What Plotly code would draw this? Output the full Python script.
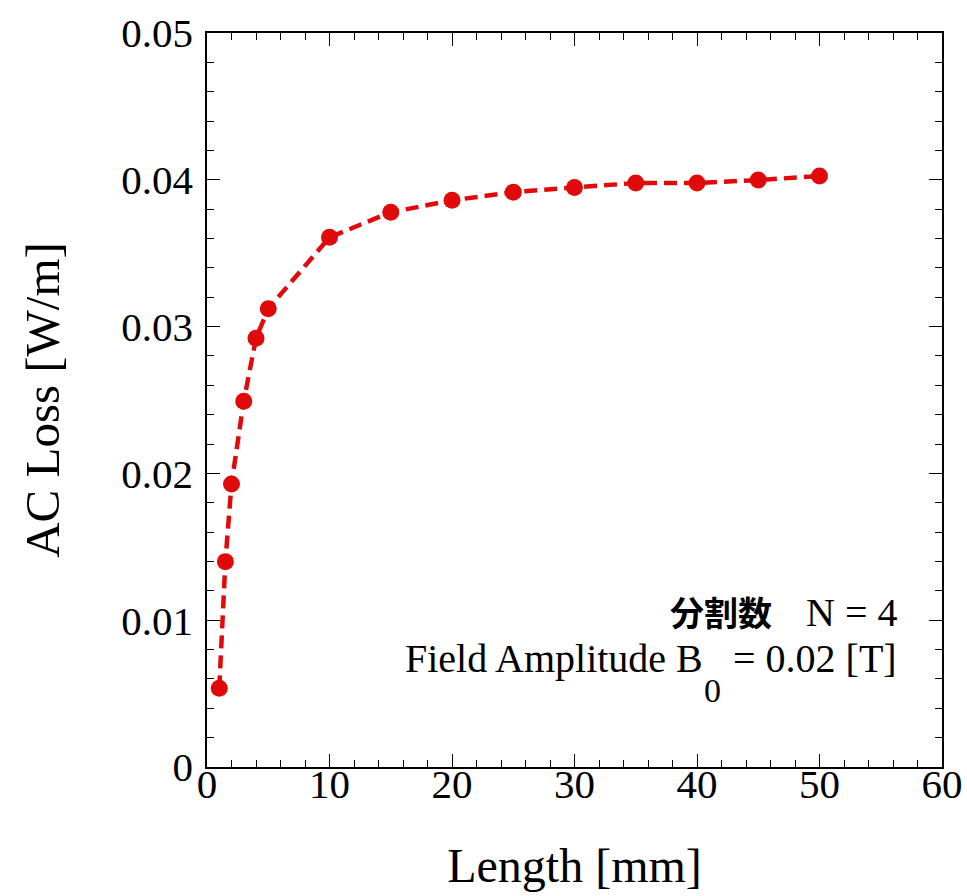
import plotly.graph_objects as go

length_mm = [1, 1.5, 2, 3, 4, 5, 10, 15, 20, 25, 30, 35, 40, 45, 50]
ac_loss = [0.00536, 0.01399, 0.01928, 0.02492, 0.02920, 0.03122, 0.03608,
           0.03779, 0.03860, 0.03916, 0.03948, 0.03978, 0.03978, 0.03998, 0.04026]

x_ticks = [0, 10, 20, 30, 40, 50, 60]
y_ticks = [0, 0.01, 0.02, 0.03, 0.04, 0.05]
y_tick_text = ["0", "0.01", "0.02", "0.03", "0.04", "0.05"]

red = "#e00a0a"
serif = "Liberation Serif, Times New Roman, serif"

fig = go.Figure()
fig.add_trace(go.Scatter(
    x=length_mm, y=ac_loss, mode="lines+markers",
    line=dict(color=red, width=4.5, dash="13px,7px"),
    marker=dict(color=red, size=17),
    showlegend=False,
))

axis_common = dict(
    showline=True, linecolor="black", linewidth=1.5, mirror="allticks",
    ticks="inside", ticklen=13, tickwidth=1.3, tickcolor="black",
    showgrid=False, zeroline=False, automargin=False,
    tickfont=dict(family=serif, size=41, color="black"),
    ticklabeloverflow="allow",
)

fig.update_xaxes(
    range=[0, 60], tickvals=x_ticks,
    minor=dict(ticks="inside", ticklen=7, dtick=2, tickcolor="black", tickwidth=1.2, showgrid=False),
    title=dict(text="Length [mm]", font=dict(family=serif, size=48, color="black"), standoff=42),
    ticklabelstandoff=-20,
    **axis_common,
)
fig.update_yaxes(
    range=[0, 0.05], tickvals=y_ticks, ticktext=y_tick_text,
    minor=dict(ticks="inside", ticklen=7, dtick=0.002, tickcolor="black", tickwidth=1.2, showgrid=False),
    title=dict(text="AC Loss [W/m]", font=dict(family=serif, size=49, color="black"), standoff=46),
    ticklabelstandoff=4,
    **axis_common,
)

txt_font = dict(family=serif, size=40, color="black")
fig.add_annotation(
    x=56.45, y=0.0106, xref="x", yref="y", xanchor="right", yanchor="middle",
    text="<b><span style='font-family:Noto Sans CJK JP;font-size:34px'>分割数　</span></b>N = 4",
    showarrow=False, font=txt_font,
)
fig.add_annotation(
    x=40.65, y=0.0074, xref="x", yref="y", xanchor="right", yanchor="middle",
    text="Field Amplitude B", showarrow=False, font=txt_font,
)
fig.add_annotation(
    x=41.3, y=0.00518, xref="x", yref="y", xanchor="center", yanchor="middle",
    text="0", showarrow=False, font=dict(family=serif, size=34, color="black"),
)
fig.add_annotation(
    x=56.45, y=0.0074, xref="x", yref="y", xanchor="right", yanchor="middle",
    text="= 0.02 [T]", showarrow=False, font=txt_font,
)

fig.update_layout(
    width=967, height=896,
    margin=dict(l=207, r=25, t=33, b=129),
    paper_bgcolor="white", plot_bgcolor="white",
)

fig.write_html(
    "out.html",
    config={"displayModeBar": False},
    post_script="document.body.style.margin='0px';document.body.style.overflow='hidden';",
)
